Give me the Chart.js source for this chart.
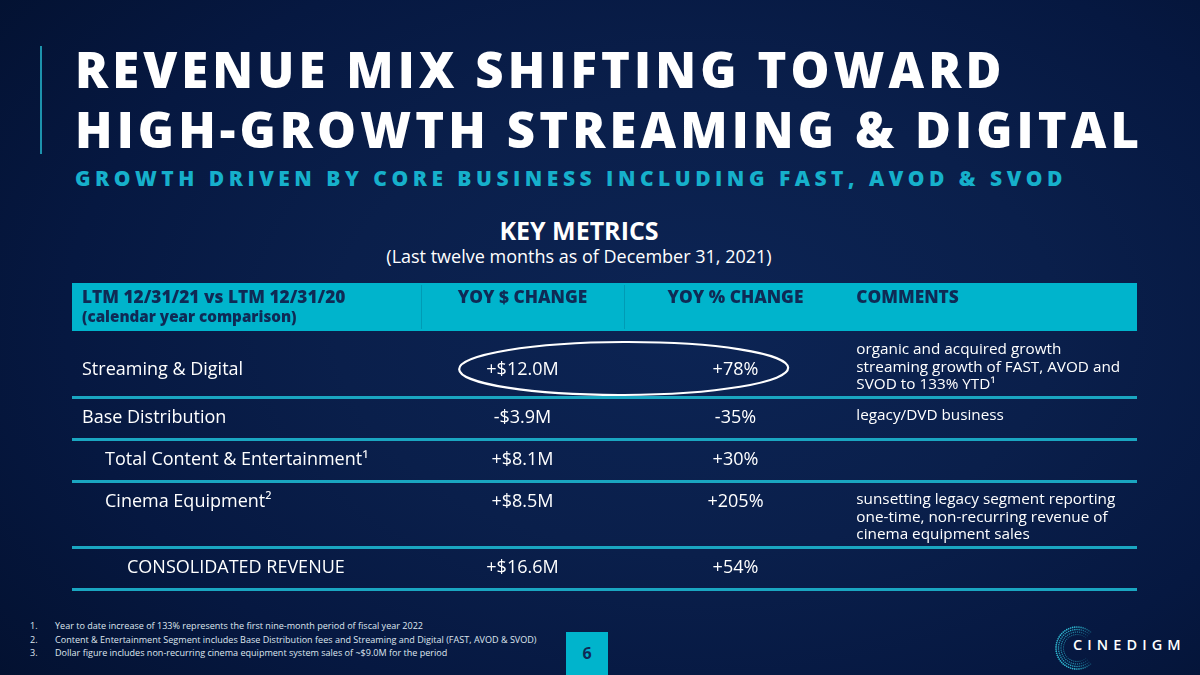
<!DOCTYPE html>
<html><head><meta charset="utf-8">
<script src="https://cdn.jsdelivr.net/npm/chart.js@4.4.1/dist/chart.umd.min.js"></script>
<style>
html,body{margin:0;padding:0;}
body{width:1200px;height:675px;overflow:hidden;font-family:'Open Sans',sans-serif;}
#slide{position:relative;width:1200px;height:675px;overflow:hidden;
  background:radial-gradient(ellipse 75% 85% at 58% 48%, #0c2454 0%, #0a1f4b 40%, #061841 70%, #031130 100%);}
.vbar{position:absolute;left:40px;top:46px;width:2px;height:108px;background:#1d93ad;}
.title{position:absolute;left:75px;top:39px;color:#fff;font-weight:800;font-size:49px;letter-spacing:4.1px;line-height:60px;white-space:nowrap;}
.subtitle{position:absolute;left:75px;top:168.3px;color:#16b0cb;font-weight:800;font-size:21px;letter-spacing:4.5px;line-height:21px;white-space:nowrap;}
.km{position:absolute;left:0;width:1158px;text-align:center;color:#fff;white-space:nowrap;}
#km1{top:218px;font-weight:700;font-size:25px;line-height:25px;}
#km2{top:243px;font-size:18px;line-height:26px;}
#wrap{position:absolute;left:72px;top:281px;width:1065px;height:311px;}
.fn{position:absolute;left:0;top:619px;color:#dfe6ef;font-size:9.05px;line-height:13.7px;}
.fn div{position:relative;white-space:nowrap;}
.fn span.n{position:absolute;left:30px;}
.fn span.t{position:absolute;left:55px;}
#page{position:absolute;left:566px;top:632px;width:42px;height:43px;background:#00b4cc;color:#0f2a55;font-weight:700;font-size:16px;line-height:43px;text-align:center;}
#logo{position:absolute;left:1030px;top:624px;width:100px;height:51px;}
#logotext{position:absolute;left:1073px;top:635.4px;color:#fff;font-size:14.5px;letter-spacing:5.1px;line-height:20px;font-weight:600;}
</style></head>
<body>
<div id="slide">
  <div class="vbar"></div>
  <div class="title">REVENUE MIX SHIFTING TOWARD<br>HIGH-GROWTH STREAMING &amp; DIGITAL</div>
  <div class="subtitle">GROWTH DRIVEN BY CORE BUSINESS INCLUDING FAST, AVOD &amp; SVOD</div>
  <div class="km" id="km1">KEY METRICS</div>
  <div class="km" id="km2">(Last twelve months as of December 31, 2021)</div>
  <div id="wrap"><canvas id="c"></canvas></div>
  <div class="fn" id="fn"></div>
  <div id="page">6</div>
  <svg id="logo" viewBox="0 0 100 51"></svg>
  <div id="logotext">CINEDIGM</div>
</div>
<script>
// ---------- DATA ----------
const columnHeaders = ["LTM 12/31/21 vs LTM 12/31/20", "YOY $ CHANGE", "YOY % CHANGE", "COMMENTS"];
const headerSubline = "(calendar year comparison)";
const rowLabels = ["Streaming & Digital", "Base Distribution", "Total Content & Entertainment\u00B9", "Cinema Equipment\u00B2", "CONSOLIDATED REVENUE"];
const yoyDollarM = [12.0, -3.9, 8.1, 8.5, 16.6];
const yoyPercent = [78, -35, 30, 205, 54];
const comments = [
  ["organic and acquired growth", "streaming growth of FAST, AVOD and", "SVOD to 133% YTD\u00B9"],
  ["legacy/DVD business"],
  [],
  ["sunsetting legacy segment reporting", "one-time, non-recurring revenue of", "cinema equipment sales"],
  []
];
const highlightedRow = 0;
const footnotes = [
  "Year to date increase of 133% represents the first nine-month period of fiscal year 2022",
  "Content & Entertainment Segment includes Base Distribution fees and Streaming and Digital (FAST, AVOD & SVOD)",
  "Dollar figure includes non-recurring cinema equipment system sales of ~$9.0M for the period"
];

// ---------- LAYOUT / STYLE ----------
const layout = {
  headerUnits: 48,
  colEdges: [0, 32.8, 51.8, 72.8, 100],
  indentPx: [0, 0, 23, 23, 45],
  labelPad: 10, commentPad: 9,
  lineStep: 17.5, topPad: 20.5, commentTop: 19,
  teal: '#00b4cc', rule: '#1aa6c1', headText: '#0f2a55'
};
const rowUnits = comments.map(c => 30 + 12 * Math.max(1, c.length));
const bounds = [0, layout.headerUnits];
rowUnits.forEach(h => bounds.push(bounds[bounds.length - 1] + h));
const rowTop = i => bounds[i + 1];
const rowTextY = i => i === highlightedRow ? rowTop(i) + rowUnits[i] / 2 + 5.5 : rowTop(i) + layout.topPad;
const colCenter = c => (layout.colEdges[c] + layout.colEdges[c + 1]) / 2;
const fmtDollar = v => (v >= 0 ? '+' : '-') + '$' + Math.abs(v).toFixed(1) + 'M';
const fmtPct = v => (v >= 0 ? '+' : '') + v + '%';

// footnotes
const fn = document.getElementById('fn');
footnotes.forEach((t, i) => {
  const d = document.createElement('div'); d.style.height = '13.7px';
  d.innerHTML = '<span class="n">' + (i + 1) + '.</span><span class="t"></span>';
  d.querySelector('.t').textContent = t; fn.appendChild(d);
});

// logo ring (decorative)
(function () {
  const svg = document.getElementById('logo');
  let s = '';
  const cx = 47, cy = 24;
  [[21, 46], [18.5, 40], [16, 35], [13.5, 30]].forEach(([r, n], k) => {
    for (let j = 0; j < n; j++) {
      const deg = 50 + j * 260 / (n - 1);
      const a = deg * Math.PI / 180;
      const px = cx + r * Math.cos(a), py = cy + r * Math.sin(a);
      const edge = Math.min(deg - 50, 310 - deg) / 60;
      const op = Math.max(0.25, Math.min(1, 0.25 + edge)) * (1 - k * 0.12);
      s += '<circle cx="' + px.toFixed(2) + '" cy="' + py.toFixed(2) + '" r="' + (0.85 - k * 0.08).toFixed(2) + '" fill="#2fb8d1" opacity="' + op.toFixed(2) + '"/>';
    }
  });
  svg.innerHTML = s;
})();

// ---------- TABLE PLUGIN ----------
const tablePlugin = {
  id: 'tableCells',
  beforeDatasetsDraw(chart) {
    const { ctx, scales: { x, y } } = chart;
    const l = x.getPixelForValue(0), r = x.getPixelForValue(100);
    const t = y.getPixelForValue(0), b = y.getPixelForValue(layout.headerUnits);
    ctx.save();
    ctx.fillStyle = layout.teal;
    ctx.fillRect(l, t, r - l, b - t);
    ctx.strokeStyle = 'rgba(0,70,100,0.22)'; ctx.lineWidth = 1;
    [1, 2].forEach(c => {
      const px = Math.round(x.getPixelForValue(layout.colEdges[c])) + 0.5;
      ctx.beginPath(); ctx.moveTo(px, t + 2); ctx.lineTo(px, b - 2); ctx.stroke();
    });
    // header text
    ctx.fillStyle = layout.headText; ctx.textBaseline = 'middle';
    ctx.font = '800 17.3px "Open Sans"'; ctx.textAlign = 'left';
    ctx.fillText(columnHeaders[0], l + layout.labelPad, y.getPixelForValue(15));
    ctx.font = '800 15.2px "Open Sans"';
    ctx.fillText(headerSubline, l + layout.labelPad, y.getPixelForValue(34.5));
    ctx.font = '800 17.3px "Open Sans"'; ctx.textAlign = 'center';
    ctx.fillText(columnHeaders[1], x.getPixelForValue(colCenter(1)), y.getPixelForValue(15));
    ctx.fillText(columnHeaders[2], x.getPixelForValue(colCenter(2)), y.getPixelForValue(15));
    ctx.textAlign = 'left';
    ctx.fillText(columnHeaders[3], x.getPixelForValue(layout.colEdges[3]) + layout.commentPad, y.getPixelForValue(15));
    ctx.restore();
  },
  afterDatasetsDraw(chart) {
    const { ctx, scales: { x, y } } = chart;
    const l = x.getPixelForValue(0);
    ctx.save();
    ctx.fillStyle = '#ffffff'; ctx.textBaseline = 'middle';
    // row labels
    ctx.font = '400 18px "Open Sans"'; ctx.textAlign = 'left';
    rowLabels.forEach((lab, i) => {
      ctx.fillText(lab, l + layout.labelPad + layout.indentPx[i], y.getPixelForValue(rowTextY(i)));
    });
    // values from dataset elements
    ctx.textAlign = 'center';
    chart.getDatasetMeta(0).data.forEach((pt, i) => ctx.fillText(fmtDollar(yoyDollarM[i]), pt.x, pt.y));
    chart.getDatasetMeta(1).data.forEach((pt, i) => ctx.fillText(fmtPct(yoyPercent[i]), pt.x, pt.y));
    // comments
    ctx.font = '400 15.3px "Open Sans"'; ctx.textAlign = 'left';
    const cx = x.getPixelForValue(layout.colEdges[3]) + layout.commentPad;
    comments.forEach((lines, i) => {
      lines.forEach((ln, k) => ctx.fillText(ln, cx, y.getPixelForValue(rowTop(i) + layout.commentTop + k * layout.lineStep)));
    });
    // highlight ellipse
    const ex = x.getPixelForValue(layout.colEdges[2]);
    const ey = y.getPixelForValue(rowTextY(highlightedRow)) - 1;
    const halfSpan = (x.getPixelForValue(colCenter(2)) - x.getPixelForValue(colCenter(1))) / 2;
    ctx.strokeStyle = '#ffffff'; ctx.lineWidth = 2.2;
    ctx.beginPath(); ctx.ellipse(ex, ey, halfSpan + 58, 26.5, -0.004, 0, Math.PI * 2); ctx.stroke();
    ctx.restore();
  }
};

new Chart(document.getElementById('c'), {
  type: 'scatter',
  data: {
    datasets: [
      { label: 'YOY $ CHANGE', data: yoyDollarM.map((v, i) => ({ x: colCenter(1), y: rowTextY(i) })), pointRadius: 0 },
      { label: 'YOY % CHANGE', data: yoyPercent.map((v, i) => ({ x: colCenter(2), y: rowTextY(i) })), pointRadius: 0 }
    ]
  },
  options: {
    responsive: true, maintainAspectRatio: false, animation: false,
    layout: { padding: { top: 2, bottom: 3, left: 0, right: 0 } },
    plugins: { legend: { display: false }, tooltip: { enabled: false } },
    events: [],
    scales: {
      x: { type: 'linear', min: 0, max: 100, display: false },
      y: {
        type: 'linear', reverse: true, min: 0, max: bounds[bounds.length - 1],
        afterBuildTicks: s => { s.ticks = bounds.map(v => ({ value: v })); },
        ticks: { display: false },
        border: { display: false },
        grid: {
          drawTicks: false, lineWidth: 3,
          color: c => (c.tick && c.tick.value > layout.headerUnits) ? layout.rule : 'rgba(0,0,0,0)'
        }
      }
    }
  },
  plugins: [tablePlugin]
});
</script>
</body></html>
